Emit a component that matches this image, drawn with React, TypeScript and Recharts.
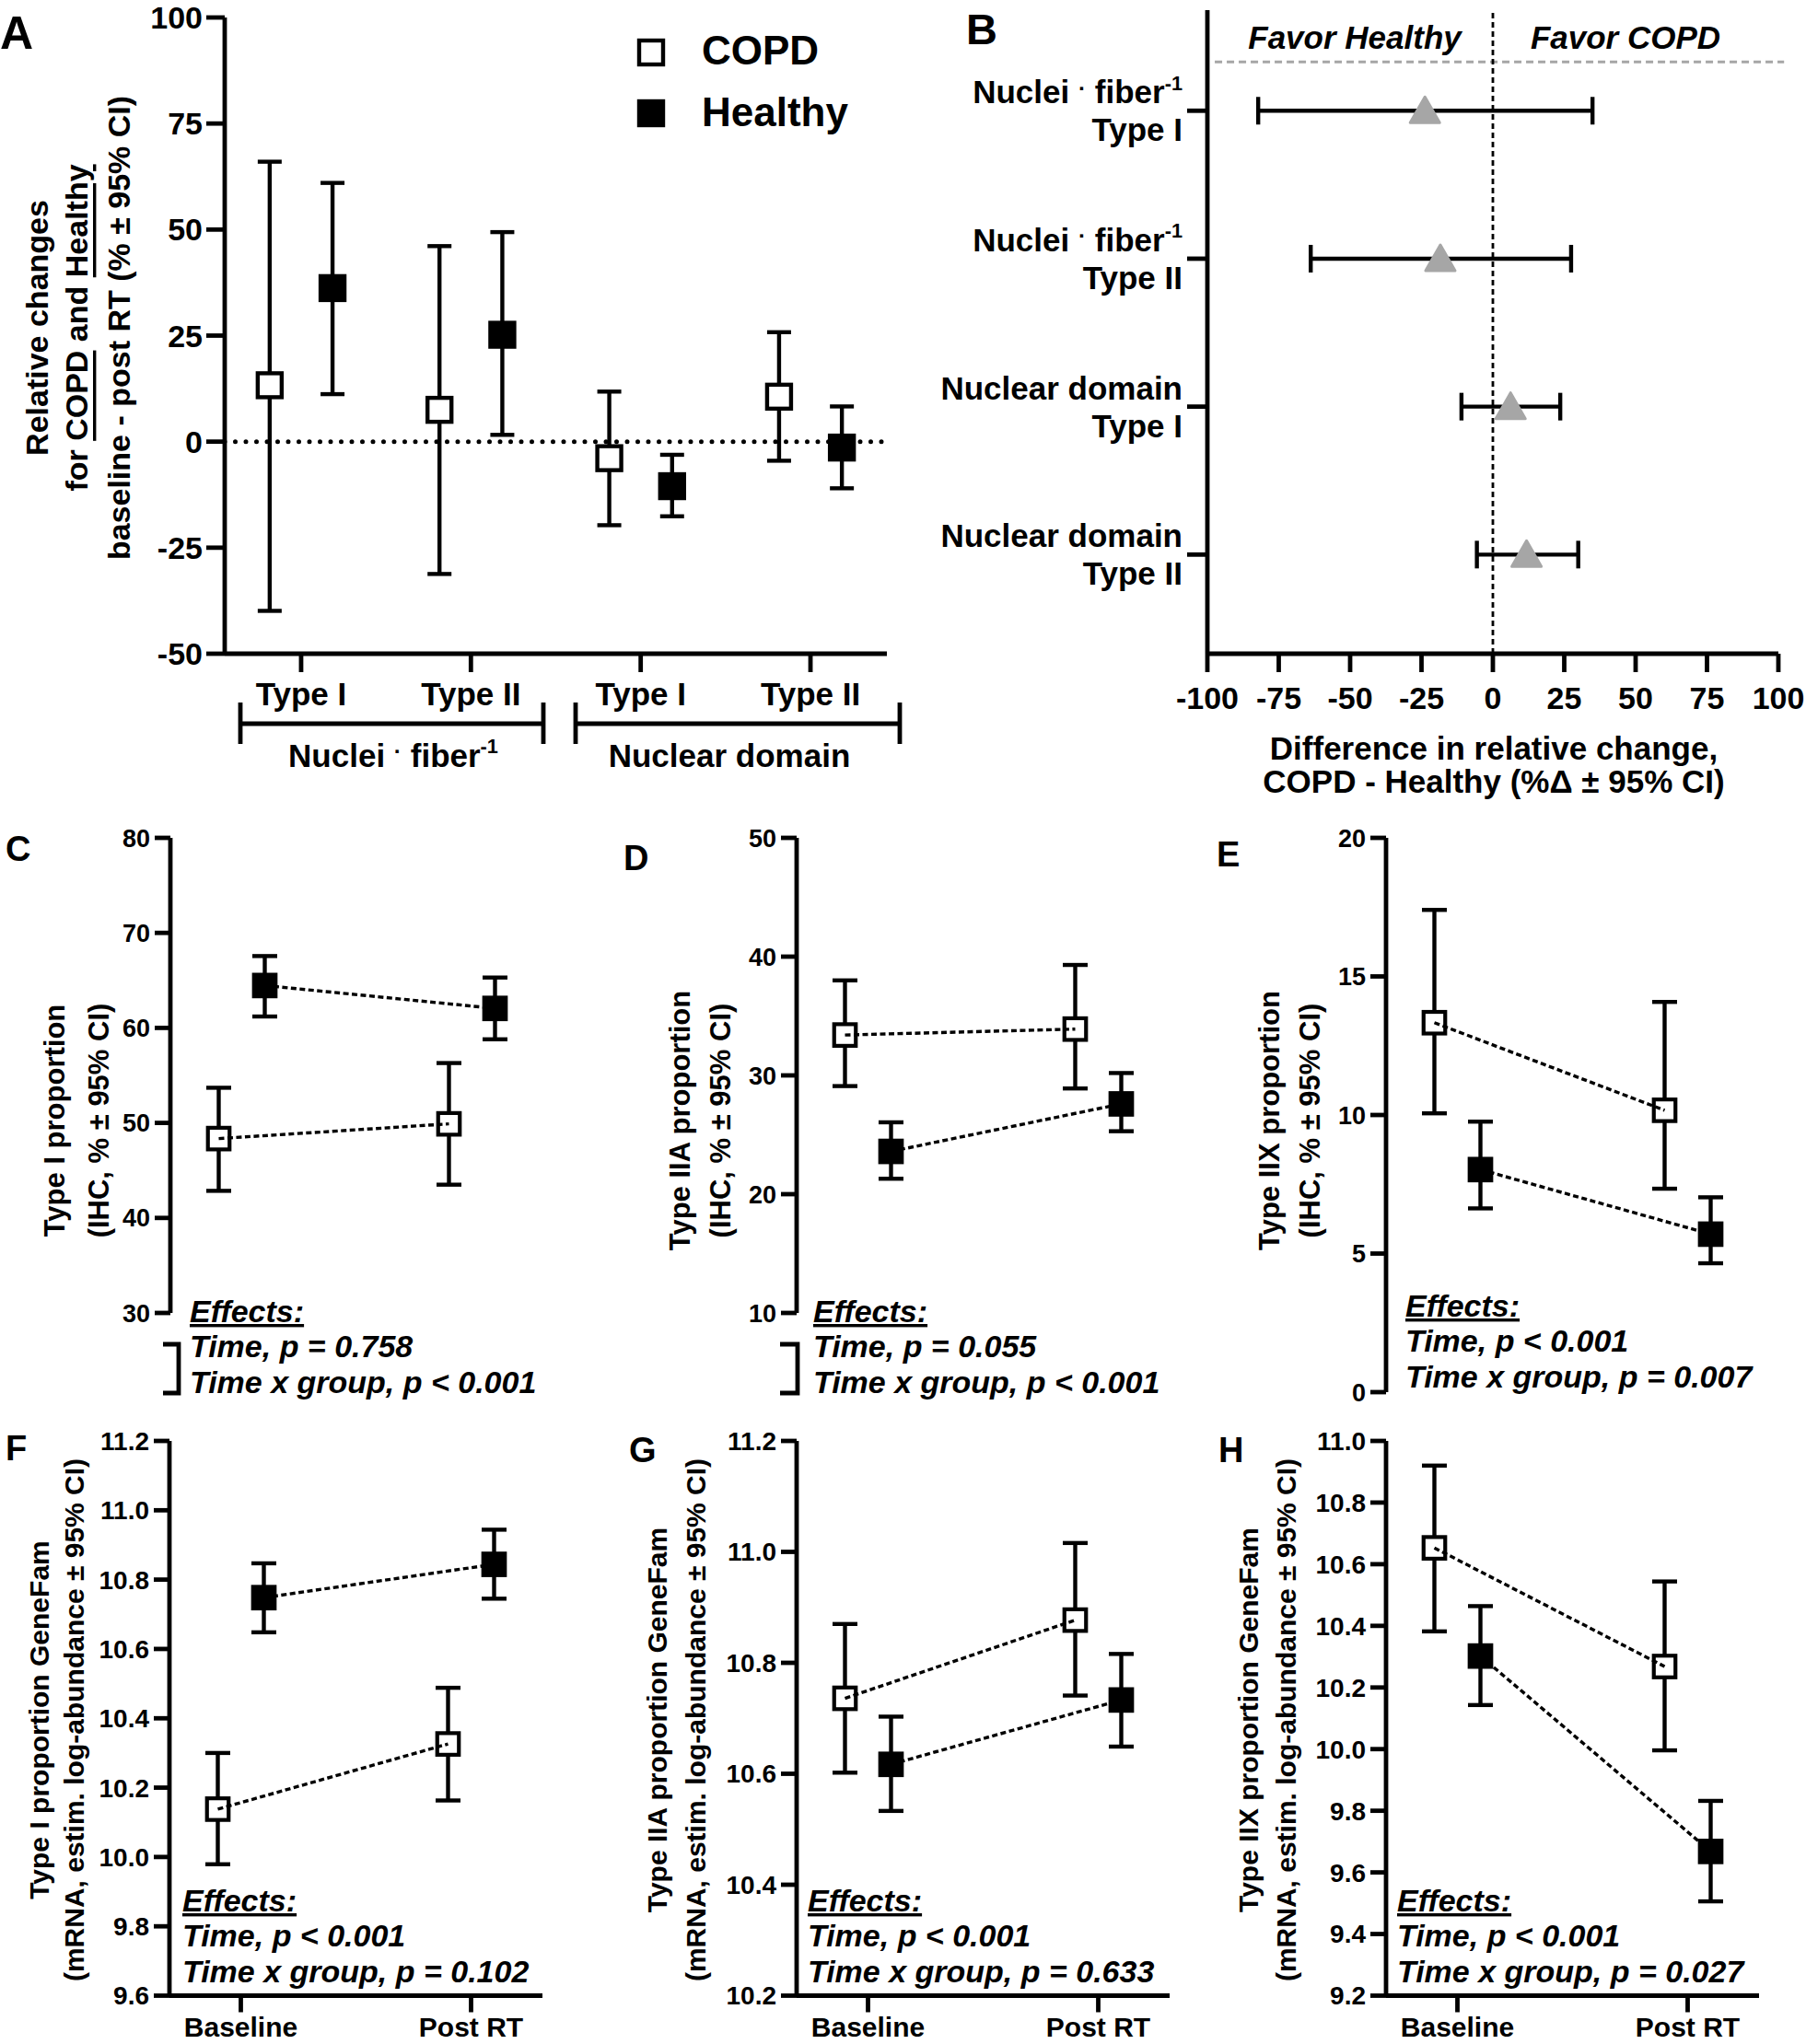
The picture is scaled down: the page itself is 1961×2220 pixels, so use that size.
import React from 'react';
import { ScatterChart, Scatter, XAxis, YAxis, ErrorBar, ReferenceLine } from 'recharts';

const FONT = '"Liberation Sans", Arial, Helvetica, sans-serif';
const INK = '#000';
const GREY = '#a6a6a6';

// Panel A - relative change baseline -> post RT
const categoriesA = ['Type I', 'Type II', 'Type I', 'Type II'];
const copdMeanA = [13.3, 7.5, -3.9, 10.6];
const copdLowA = [-39.9, -31.2, -19.7, -4.5];
const copdHighA = [66, 46.1, 11.8, 25.8];
const healthyMeanA = [36.2, 25.2, -10.5, -1.4];
const healthyLowA = [11.2, 1.6, -17.6, -11];
const healthyHighA = [61, 49.4, -3.1, 8.3];
const yTicksA = [-50, -25, 0, 25, 50, 75, 100];

// Panel B - difference COPD - Healthy
const measuresB = ['Nuclei · fiber-1', 'Nuclei · fiber-1', 'Nuclear domain', 'Nuclear domain'];
const typesB = ['Type I', 'Type II', 'Type I', 'Type II'];
const diffMeanB = [-23.8, -18.4, 6.2, 11.8];
const diffLowB = [-82.2, -63.8, -11, -5.6];
const diffHighB = [34.9, 27.4, 23.6, 29.9];
const xTicksB = [-100, -75, -50, -25, 0, 25, 50, 75, 100];

// Panels C-H - baseline vs post RT
const timepoints = ['Baseline', 'Post RT'];

const copdMeanC = [48.35, 49.9];
const copdLowC = [42.85, 43.5];
const copdHighC = [53.7, 56.3];
const healthyMeanC = [64.46, 62.05];
const healthyLowC = [61.2, 58.8];
const healthyHighC = [67.56, 65.3];
const ticksC = [30, 40, 50, 60, 70, 80];

const copdMeanD = [33.4, 33.9];
const copdLowD = [29.1, 28.9];
const copdHighD = [38.0, 39.3];
const healthyMeanD = [23.6, 27.6];
const healthyLowD = [21.3, 25.3];
const healthyHighD = [26.05, 30.2];
const ticksD = [10, 20, 30, 40, 50];

const copdMeanE = [13.33, 10.17];
const copdLowE = [10.06, 7.34];
const copdHighE = [17.4, 14.08];
const healthyMeanE = [8.03, 5.7];
const healthyLowE = [6.63, 4.65];
const healthyHighE = [9.76, 7.03];
const ticksE = [0, 5, 10, 15, 20];

const copdMeanF = [10.138, 10.326];
const copdLowF = [9.979, 10.163];
const copdHighF = [10.3, 10.488];
const healthyMeanF = [10.748, 10.844];
const healthyLowF = [10.648, 10.745];
const healthyHighF = [10.847, 10.944];
const ticksF = [9.6, 9.8, 10.0, 10.2, 10.4, 10.6, 10.8, 11.0, 11.2];

const copdMeanG = [10.736, 10.877];
const copdLowG = [10.602, 10.741];
const copdHighG = [10.87, 11.016];
const healthyMeanG = [10.617, 10.733];
const healthyLowG = [10.533, 10.649];
const healthyHighG = [10.703, 10.816];
const ticksG = [10.2, 10.4, 10.6, 10.8, 11.0, 11.2];

const copdMeanH = [10.653, 10.268];
const copdLowH = [10.382, 9.996];
const copdHighH = [10.92, 10.544];
const healthyMeanH = [10.302, 9.668];
const healthyLowH = [10.143, 9.506];
const healthyHighH = [10.464, 9.832];
const ticksH = [9.2, 9.4, 9.6, 9.8, 10.0, 10.2, 10.4, 10.6, 10.8, 11.0];

const ihcTitle = '(IHC, % ± 95% CI)';
const mrnaTitle = '(mRNA, estim. log-abundance ± 95% CI)';
const effectsC = ['Time, p = 0.758', 'Time x group, p < 0.001'];
const effectsD = ['Time, p = 0.055', 'Time x group, p < 0.001'];
const effectsE = ['Time, p < 0.001', 'Time x group, p = 0.007'];
const effectsF = ['Time, p < 0.001', 'Time x group, p = 0.102'];
const effectsG = ['Time, p < 0.001', 'Time x group, p = 0.633'];
const effectsH = ['Time, p < 0.001', 'Time x group, p = 0.027'];

type Series = { mean: number[]; low: number[]; high: number[] };
type Rect = { x: number; y: number; w: number; h: number };

const axisStyle = { stroke: INK, strokeWidth: 4.8 };
const dashed = { stroke: INK, strokeWidth: 3.4, strokeDasharray: '6 3.5' };
const BAR_W = 4.4;
const DODGE_A = 0.185;
const DODGE = 0.1;

function points(xs: number[], s: Series) {
  return s.mean.map((m, i) => ({ x: xs[i], y: m, err: [m - s.low[i], s.high[i] - m] }));
}

const squareShape = (filled: boolean, size: number, sw: number) => (p: any) => {
  if (p.cx == null || p.cy == null) return <g />;
  return (
    <rect x={p.cx - size / 2} y={p.cy - size / 2} width={size} height={size}
      fill={filled ? INK : '#fff'} stroke={INK} strokeWidth={sw} />
  );
};
const noShape = () => <g />;

const triangleShape = (p: any) => {
  if (p.cx == null || p.cy == null) return <g />;
  const { cx, cy } = p;
  return (
    <polygon points={`${cx},${cy - 15} ${cx - 16},${cy + 13} ${cx + 16},${cy + 13}`}
      fill={GREY} stroke={GREY} strokeWidth={3} strokeLinejoin="round" />
  );
};

function nucleiFiber(size: number) {
  return [
    <tspan key="a">Nuclei </tspan>,
    <tspan key="b" fontSize={size * 0.7} dy={-size * 0.25}>·</tspan>,
    <tspan key="c" dy={size * 0.25}> fiber</tspan>,
    <tspan key="d" fontSize={size * 0.62} dy={-size * 0.42}>-1</tspan>,
  ];
}

function PanelA() {
  const copd = points([1, 2, 3, 4].map((v) => v - DODGE_A), { mean: copdMeanA, low: copdLowA, high: copdHighA });
  const healthy = points([1, 2, 3, 4].map((v) => v + DODGE_A), { mean: healthyMeanA, low: healthyLowA, high: healthyHighA });
  return (
    <div style={{ position: 'absolute', left: 140, top: -20 }}>
      <ScatterChart width={860} height={900} margin={{ top: 39, right: 37, left: 0, bottom: 0 }}>
        <XAxis type="number" dataKey="x" domain={[0.55, 4.45]} ticks={[1, 2, 3, 4]} interval={0} allowDataOverflow
          height={170} tickSize={20} tickMargin={11} axisLine={axisStyle} tickLine={axisStyle}
          tickFormatter={(v: number) => categoriesA[v - 1]}
          tick={{ fill: INK, fontSize: 35, fontWeight: 700 }} />
        <YAxis type="number" dataKey="y" domain={[-50, 100]} ticks={yTicksA} interval={0} allowDataOverflow
          width={104} tickSize={20} tickMargin={4} axisLine={axisStyle} tickLine={axisStyle}
          tick={{ fill: INK, fontSize: 34, fontWeight: 700 }} />
        <ReferenceLine y={0} stroke={INK} strokeWidth={5} strokeDasharray="0 11.5" strokeLinecap="round" />
        <Scatter data={copd} shape={squareShape(false, 26, 4.4)} isAnimationActive={false}>
          <ErrorBar dataKey="err" direction="y" width={13} stroke={INK} strokeWidth={BAR_W} isAnimationActive={false} />
        </Scatter>
        <Scatter data={healthy} shape={squareShape(true, 26, 4.4)} isAnimationActive={false}>
          <ErrorBar dataKey="err" direction="y" width={13} stroke={INK} strokeWidth={BAR_W} isAnimationActive={false} />
        </Scatter>
      </ScatterChart>
    </div>
  );
}

const RowTick = (props: any) => {
  const { x, y, payload } = props;
  const i = Math.round(payload.value) - 1;
  const measure = measuresB[i];
  return (
    <g fill={INK} fontSize={35} fontWeight={700}>
      <text x={x} y={y - 8} textAnchor="end">
        {measure.startsWith('Nuclei ·') ? nucleiFiber(35) : measure}
      </text>
      <text x={x} y={y + 33} textAnchor="end">{typesB[i]}</text>
    </g>
  );
};

function PanelB() {
  const diffs = diffMeanB.map((m, i) => ({ x: m, y: i + 1, err: [m - diffLowB[i], diffHighB[i] - m] }));
  return (
    <div style={{ position: 'absolute', left: 1000, top: -20 }}>
      <ScatterChart width={961} height={900} margin={{ top: 31, right: 30, left: 0, bottom: 0 }}>
        <XAxis type="number" dataKey="x" domain={[-100, 100]} ticks={xTicksB} interval={0} allowDataOverflow
          height={170} tickSize={20} tickMargin={16} axisLine={axisStyle} tickLine={axisStyle}
          tick={{ fill: INK, fontSize: 34, fontWeight: 700 }} />
        <YAxis type="number" dataKey="y" domain={[0.32, 4.67]} reversed ticks={[1, 2, 3, 4]} interval={0} allowDataOverflow
          width={311} tickSize={22} tickMargin={5} axisLine={axisStyle} tickLine={axisStyle} tick={RowTick} />
        <ReferenceLine segment={[{ x: -97.4, y: 0.67 }, { x: 102, y: 0.67 }]} ifOverflow="visible"
          stroke={GREY} strokeWidth={3} strokeDasharray="8 5" />
        <ReferenceLine x={0} stroke={INK} strokeWidth={2.8} strokeDasharray="6 4" />
        <Scatter data={diffs} shape={triangleShape} isAnimationActive={false}>
          <ErrorBar dataKey="err" direction="x" width={15} stroke={INK} strokeWidth={BAR_W} isAnimationActive={false} />
        </Scatter>
      </ScatterChart>
    </div>
  );
}

type TimeConfig = {
  id: string;
  frame: Rect;
  plot: Rect;
  domain: [number, number];
  ticks: number[];
  digits: number;
  showX: boolean;
  copd: Series;
  healthy: Series;
};

function TimePanel({ frame, plot, domain, ticks, digits, showX, copd, healthy }: TimeConfig) {
  const copdPts = points([1, 2].map((v) => v - DODGE), copd);
  const healthyPts = points([1, 2].map((v) => v + DODGE), healthy);
  const bottom = frame.y + frame.h - (plot.y + plot.h);
  return (
    <div style={{ position: 'absolute', left: frame.x, top: frame.y }}>
      <ScatterChart width={frame.w} height={frame.h}
        margin={{ top: plot.y - frame.y, right: frame.x + frame.w - plot.x - plot.w, left: 0, bottom: showX ? 0 : bottom }}>
        <XAxis type="number" dataKey="x" domain={[0.69, 2.31]} ticks={[1, 2]} interval={0} allowDataOverflow
          hide={!showX} height={showX ? bottom : 0} tickSize={18} tickMargin={5}
          axisLine={axisStyle} tickLine={axisStyle} tickFormatter={(v: number) => timepoints[v - 1]}
          tick={{ fill: INK, fontSize: 30, fontWeight: 700 }} />
        <YAxis type="number" dataKey="y" domain={domain} ticks={ticks} interval={0} allowDataOverflow
          width={plot.x - frame.x} tickSize={17} tickMargin={5} axisLine={axisStyle} tickLine={axisStyle}
          tickFormatter={(v: number) => v.toFixed(digits)}
          tick={{ fill: INK, fontSize: digits ? 28 : 27, fontWeight: 700 }} />
        <Scatter data={copdPts} shape={squareShape(false, 23.5, 4.2)} isAnimationActive={false}>
          <ErrorBar dataKey="err" direction="y" width={13.5} stroke={INK} strokeWidth={BAR_W} isAnimationActive={false} />
        </Scatter>
        <Scatter data={healthyPts} shape={squareShape(true, 23.5, 4.2)} isAnimationActive={false}>
          <ErrorBar dataKey="err" direction="y" width={13.5} stroke={INK} strokeWidth={BAR_W} isAnimationActive={false} />
        </Scatter>
        <Scatter data={copdPts} shape={noShape} line={dashed} lineType="joint" isAnimationActive={false} />
        <Scatter data={healthyPts} shape={noShape} line={dashed} lineType="joint" isAnimationActive={false} />
      </ScatterChart>
    </div>
  );
}

const timePanels: TimeConfig[] = [
  { id: 'C', frame: { x: 0, y: 880, w: 660, h: 660 }, plot: { x: 185, y: 910, w: 405, h: 516 }, domain: [30, 80], ticks: ticksC, digits: 0, showX: false,
    copd: { mean: copdMeanC, low: copdLowC, high: copdHighC }, healthy: { mean: healthyMeanC, low: healthyLowC, high: healthyHighC } },
  { id: 'D', frame: { x: 660, y: 880, w: 660, h: 660 }, plot: { x: 865, y: 910, w: 405, h: 516 }, domain: [10, 50], ticks: ticksD, digits: 0, showX: false,
    copd: { mean: copdMeanD, low: copdLowD, high: copdHighD }, healthy: { mean: healthyMeanD, low: healthyLowD, high: healthyHighD } },
  { id: 'E', frame: { x: 1300, y: 880, w: 661, h: 660 }, plot: { x: 1505, y: 910, w: 405, h: 602 }, domain: [0, 20], ticks: ticksE, digits: 0, showX: false,
    copd: { mean: copdMeanE, low: copdLowE, high: copdHighE }, healthy: { mean: healthyMeanE, low: healthyLowE, high: healthyHighE } },
  { id: 'F', frame: { x: 0, y: 1540, w: 660, h: 680 }, plot: { x: 184, y: 1565, w: 405, h: 602.5 }, domain: [9.6, 11.2], ticks: ticksF, digits: 1, showX: true,
    copd: { mean: copdMeanF, low: copdLowF, high: copdHighF }, healthy: { mean: healthyMeanF, low: healthyLowF, high: healthyHighF } },
  { id: 'G', frame: { x: 660, y: 1540, w: 660, h: 680 }, plot: { x: 865, y: 1565, w: 405, h: 602.5 }, domain: [10.2, 11.2], ticks: ticksG, digits: 1, showX: true,
    copd: { mean: copdMeanG, low: copdLowG, high: copdHighG }, healthy: { mean: healthyMeanG, low: healthyLowG, high: healthyHighG } },
  { id: 'H', frame: { x: 1300, y: 1540, w: 661, h: 680 }, plot: { x: 1505, y: 1565, w: 405, h: 602.5 }, domain: [9.2, 11.0], ticks: ticksH, digits: 1, showX: true,
    copd: { mean: copdMeanH, low: copdLowH, high: copdHighH }, healthy: { mean: healthyMeanH, low: healthyLowH, high: healthyHighH } },
];

// annotation text for the lower panels: letter, y title (2 lines), effects block
const notes = [
  { letter: 'C', lx: 6, ly: 935, t1: 'Type I proportion', t2: ihcTitle, x1: 59, x2: 107, cy: 1217, fs: 31, ex: 206, ey: 1436, eff: effectsC },
  { letter: 'D', lx: 677, ly: 945, t1: 'Type IIA proportion', t2: ihcTitle, x1: 738, x2: 782, cy: 1217, fs: 31, ex: 883, ey: 1436, eff: effectsD },
  { letter: 'E', lx: 1321, ly: 941, t1: 'Type IIX proportion', t2: ihcTitle, x1: 1378, x2: 1422, cy: 1217, fs: 31, ex: 1526, ey: 1430, eff: effectsE },
  { letter: 'F', lx: 6, ly: 1586, t1: 'Type I proportion GeneFam', t2: mrnaTitle, x1: 42, x2: 80, cy: 1868, fs: 30, ex: 198, ey: 2076, eff: effectsF },
  { letter: 'G', lx: 683, ly: 1588, t1: 'Type IIA proportion GeneFam', t2: mrnaTitle, x1: 713, x2: 755, cy: 1868, fs: 30, ex: 877, ey: 2076, eff: effectsG },
  { letter: 'H', lx: 1323, ly: 1588, t1: 'Type IIX proportion GeneFam', t2: mrnaTitle, x1: 1355, x2: 1396, cy: 1868, fs: 30, ex: 1517, ey: 2076, eff: effectsH },
];

function VText({ x, y, size, children }: { x: number; y: number; size: number; children: React.ReactNode }) {
  return (
    <text x={x} y={y} fontSize={size} textAnchor="middle" dominantBaseline="central" transform={`rotate(-90 ${x} ${y})`}>
      {children}
    </text>
  );
}

function Overlay() {
  const line = { stroke: INK, strokeWidth: 4.8, fill: 'none' };
  return (
    <svg width={1961} height={2220} style={{ position: 'absolute', left: 0, top: 0, pointerEvents: 'none' }}
      fontFamily={FONT} fontWeight={700} fill={INK}>
      {/* Panel A */}
      <text x={0} y={53} fontSize={50}>A</text>
      <VText x={40} y={356} size={34}>Relative changes</VText>
      <VText x={83} y={356} size={34}>
        {'for '}<tspan style={{ textDecoration: 'underline' }}>COPD</tspan>{' and '}<tspan style={{ textDecoration: 'underline' }}>Healthy</tspan>
      </VText>
      <VText x={129} y={356} size={34}>baseline - post RT (% ± 95% CI)</VText>
      <rect x={694} y={44} width={26} height={26} fill="#fff" stroke={INK} strokeWidth={4.4} />
      <rect x={694} y={110} width={26} height={26} fill={INK} stroke={INK} strokeWidth={4.4} />
      <text x={762} y={70} fontSize={44}>COPD</text>
      <text x={762} y={137} fontSize={44}>Healthy</text>
      <path d="M261 763 V808 M261 786 H590 M590 763 V808" {...line} />
      <path d="M625 763 V808 M625 786 H977 M977 763 V808" {...line} />
      <text x={427} y={833} fontSize={35} textAnchor="middle">{nucleiFiber(35)}</text>
      <text x={792} y={833} fontSize={35} textAnchor="middle">Nuclear domain</text>

      {/* Panel B */}
      <text x={1049} y={48} fontSize={47}>B</text>
      <text x={1471} y={53} fontSize={35} fontStyle="italic" textAnchor="middle">Favor Healthy</text>
      <text x={1765} y={53} fontSize={35} fontStyle="italic" textAnchor="middle">Favor COPD</text>
      <text x={1622} y={825} fontSize={35} textAnchor="middle">Difference in relative change,</text>
      <text x={1622} y={861} fontSize={35} textAnchor="middle">COPD - Healthy (%Δ ± 95% CI)</text>

      {/* axis breaks under C and D */}
      <path d="M177 1460 H194 V1513 H177" {...line} />
      <path d="M847 1460 H866 V1513 H847" {...line} />

      {/* Panels C-H */}
      {notes.map((n) => (
        <g key={n.letter}>
          <text x={n.lx} y={n.ly} fontSize={38}>{n.letter}</text>
          <VText x={n.x1} y={n.cy} size={n.fs}>{n.t1}</VText>
          <VText x={n.x2} y={n.cy} size={n.fs}>{n.t2}</VText>
          <g fontSize={34} fontStyle="italic">
            <text x={n.ex} y={n.ey} style={{ textDecoration: 'underline' }}>Effects:</text>
            <text x={n.ex} y={n.ey + 38}>{n.eff[0]}</text>
            <text x={n.ex} y={n.ey + 77}>{n.eff[1]}</text>
          </g>
        </g>
      ))}
    </svg>
  );
}

export default function App() {
  return (
    <div style={{ position: 'relative', width: 1961, height: 2220, background: '#fff', fontFamily: FONT, fontWeight: 700, overflow: 'hidden' }}>
      <style>{'body{margin:0}'}</style>
      <PanelA />
      <PanelB />
      {timePanels.map((p) => (
        <TimePanel key={p.id} {...p} />
      ))}
      <Overlay />
    </div>
  );
}
